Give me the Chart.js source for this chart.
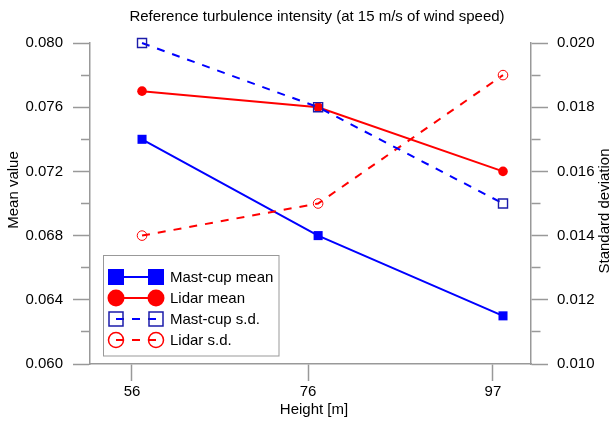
<!DOCTYPE html>
<html>
<head>
<meta charset="utf-8">
<script src="https://cdn.jsdelivr.net/npm/chart.js@4"></script>
<style>
  html, body { margin: 0; padding: 0; background: #fff; }
  #wrap { width: 614px; height: 421px; }
</style>
</head>
<body>
<div id="wrap"><canvas id="tiChart" width="614" height="421"></canvas></div>
<script>
// data
const heights = [56, 76, 97];
const heightLabels = ['56', '76', '97'];
const mastCupMean = [0.074, 0.068, 0.063];
const lidarMean = [0.077, 0.076, 0.072];
const mastCupSd = [0.020, 0.018, 0.015];
const lidarSd = [0.014, 0.015, 0.019];
const meanTickLabels = ['0.060', '0.064', '0.068', '0.072', '0.076', '0.080'];
const sdTickLabels = ['0.010', '0.012', '0.014', '0.016', '0.018', '0.020'];

const chartTitle = 'Reference turbulence intensity (at 15 m/s of wind speed)';
const xTitle = 'Height [m]';
const yMeanTitle = 'Mean value';
const ySdTitle = 'Standard deviation';

const FONT = '"Liberation Sans", Arial, sans-serif';
const AXIS = '#999999';

function pts(ys) {
    return heights.map((h, i) => ({ x: h, y: ys[i] }));
}

// minor ticks: short, drawn next to the axis only
function minorDash(labels, side) {
    return function (ctx) {
        if (!ctx.tick) return [];
        const s = ctx.tick.value.toFixed(3);
        if (labels.includes(s)) return [];
        return side === 'left' ? [0, 8, 9, 100] : [9, 100];
    };
}

const textPlugin = {
    id: 'texts',
    afterDraw(chart) {
        const c = chart.ctx;
        c.save();
        c.fillStyle = '#000';
        c.font = '15px ' + FONT;
        c.textAlign = 'center';
        c.textBaseline = 'middle';
        c.fillText(chartTitle, 317, 17);
        c.fillText(xTitle, 314, 410);

        c.save();
        c.translate(14, 190);
        c.rotate(-Math.PI / 2);
        c.fillText(yMeanTitle, 0, 0);
        c.restore();

        c.save();
        c.translate(605, 211);
        c.rotate(-Math.PI / 2);
        c.fillText(ySdTitle, 0, 0);
        c.restore();

        // legend
        c.strokeStyle = AXIS;
        c.lineWidth = 1;
        c.strokeRect(103.5, 255.5, 175.5, 100.5);

        const rows = [277, 298, 319, 340];
        const x1 = 116, x2 = 156;
        chart.data.datasets.forEach((ds, i) => {
            const y = rows[i];
            c.strokeStyle = ds.borderColor;
            c.lineWidth = 2;
            c.setLineDash(ds.borderDash || []);
            c.beginPath();
            c.moveTo(x1, y);
            c.lineTo(x2, y);
            c.stroke();
            c.setLineDash([]);
            [x1, x2].forEach(x => {
                c.beginPath();
                if (ds.pointStyle === 'rect') {
                    const s = ds.legendSize;
                    c.rect(x - s / 2, y - s / 2, s, s);
                } else {
                    c.arc(x, y, ds.legendSize / 2, 0, Math.PI * 2);
                }
                if (ds.legendFilled) {
                    c.fillStyle = ds.pointBackgroundColor;
                    c.fill();
                } else {
                    c.strokeStyle = ds.pointBorderColor;
                    c.lineWidth = 1.5;
                    c.stroke();
                }
            });
            c.fillStyle = '#000';
            c.textAlign = 'left';
            c.fillText(ds.label, 170, y + 1);
        });
        c.restore();
    }
};

const tickFont = { family: FONT, size: 15 };

new Chart(document.getElementById('tiChart'), {
    type: 'line',
    data: {
        datasets: [
            {
                label: 'Mast-cup mean',
                data: pts(mastCupMean),
                xAxisID: 'xd', yAxisID: 'yMean',
                borderColor: '#0000ff',
                borderWidth: 2,
                pointStyle: 'rect',
                pointRadius: 6.4,
                pointBackgroundColor: '#0000ff',
                pointBorderColor: '#0000ff',
                pointBorderWidth: 0,
                legendSize: 16, legendFilled: true,
                clip: false,
                order: 3
            },
            {
                label: 'Lidar mean',
                data: pts(lidarMean),
                xAxisID: 'xd', yAxisID: 'yMean',
                borderColor: '#ff0000',
                borderWidth: 2,
                pointStyle: 'circle',
                pointRadius: 4.8,
                pointBackgroundColor: '#ff0000',
                pointBorderColor: '#ff0000',
                pointBorderWidth: 0,
                legendSize: 17, legendFilled: true,
                clip: false,
                order: 1
            },
            {
                label: 'Mast-cup s.d.',
                data: pts(mastCupSd),
                xAxisID: 'xd', yAxisID: 'ySd',
                borderColor: '#0000ff',
                borderWidth: 2,
                borderDash: [8, 8],
                pointStyle: 'rect',
                pointRadius: 6.4,
                pointBackgroundColor: 'rgba(0,0,0,0)',
                pointBorderColor: '#1c1caa',
                pointBorderWidth: 1.4,
                legendSize: 14, legendFilled: false,
                clip: false,
                order: 0
            },
            {
                label: 'Lidar s.d.',
                data: pts(lidarSd),
                xAxisID: 'xd', yAxisID: 'ySd',
                borderColor: '#ff0000',
                borderWidth: 2,
                borderDash: [8, 8],
                pointStyle: 'circle',
                pointRadius: 4.8,
                pointBackgroundColor: 'rgba(0,0,0,0)',
                pointBorderColor: '#ff0000',
                pointBorderWidth: 1,
                legendSize: 15, legendFilled: false,
                clip: false,
                order: 2
            }
        ]
    },
    options: {
        responsive: false,
        animation: false,
        layout: { padding: { top: 43, left: 0, right: 0, bottom: 0 } },
        plugins: {
            legend: { display: false },
            tooltip: { enabled: false },
            title: { display: false }
        },
        scales: {
            x: {
                type: 'linear',
                position: 'bottom',
                min: 51.23,
                max: 101.32,
                afterBuildTicks: s => { s.ticks = heights.map(v => ({ value: v })); },
                afterFit: s => { s.height = 57; },
                ticks: {
                    callback: (v, i) => heightLabels[i],
                    font: tickFont, color: '#000', padding: 2,
                    autoSkip: false, maxRotation: 0
                },
                grid: { drawOnChartArea: false, tickLength: 17, tickColor: AXIS, tickWidth: 1.5 },
                border: { color: AXIS, width: 1.5 }
            },
            xd: {
                type: 'linear',
                display: false,
                min: 50.09,
                max: 100.18
            },
            yMean: {
                type: 'linear',
                position: 'left',
                min: 0.060,
                max: 0.080,
                afterFit: s => { s.width = 90; },
                ticks: {
                    stepSize: 0.002,
                    callback: v => {
                        const s = v.toFixed(3);
                        return meanTickLabels.includes(s) ? s : '';
                    },
                    font: tickFont, color: '#000', padding: 10
                },
                grid: {
                    drawOnChartArea: false, tickLength: 17, tickColor: AXIS, tickWidth: 1.5,
                    tickBorderDash: minorDash(meanTickLabels, 'left')
                },
                border: { color: AXIS, width: 1.5 }
            },
            ySd: {
                type: 'linear',
                position: 'right',
                min: 0.010,
                max: 0.020,
                afterFit: s => { s.width = 83; },
                ticks: {
                    stepSize: 0.001,
                    callback: v => {
                        const s = v.toFixed(3);
                        return sdTickLabels.includes(s) ? s : '';
                    },
                    font: tickFont, color: '#000', padding: 9
                },
                grid: {
                    drawOnChartArea: false, tickLength: 17, tickColor: AXIS, tickWidth: 1.5,
                    tickBorderDash: minorDash(sdTickLabels, 'right')
                },
                border: { color: AXIS, width: 1.5 }
            }
        }
    },
    plugins: [textPlugin]
});
</script>
</body>
</html>
